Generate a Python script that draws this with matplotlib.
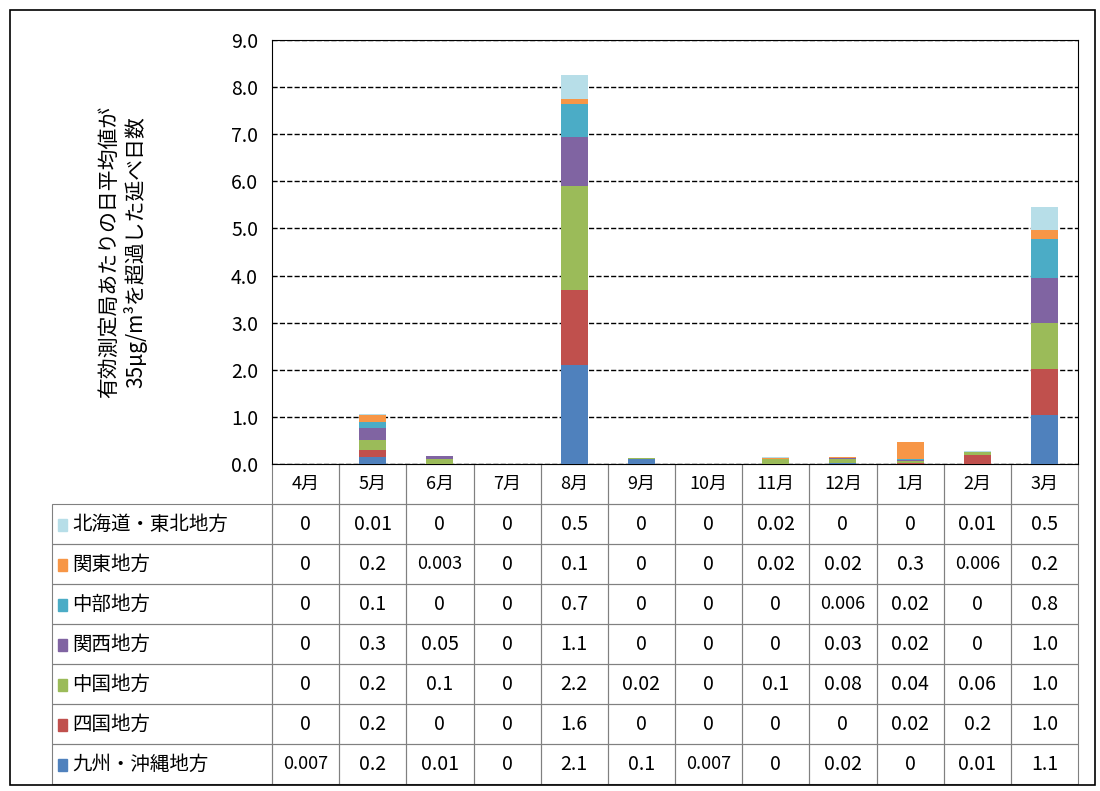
import numpy as np
import matplotlib.pyplot as plt
from matplotlib.patches import Rectangle

plt.rcParams['font.family'] = ['Noto Sans CJK JP', 'DejaVu Sans']

months = ['4月', '5月', '6月', '7月', '8月', '9月', '10月', '11月', '12月', '1月', '2月', '3月']
regions = ['北海道・東北地方', '関東地方', '中部地方', '関西地方', '中国地方', '四国地方', '九州・沖縄地方']
colors = ['#B7DEE8', '#F79646', '#4BACC6', '#8064A2', '#9BBB59', '#C0504D', '#4F81BD']
# table labels (rounded, as printed)
labels = [
    ['0', '0.01', '0', '0', '0.5', '0', '0', '0.02', '0', '0', '0.01', '0.5'],
    ['0', '0.2', '0.003', '0', '0.1', '0', '0', '0.02', '0.02', '0.3', '0.006', '0.2'],
    ['0', '0.1', '0', '0', '0.7', '0', '0', '0', '0.006', '0.02', '0', '0.8'],
    ['0', '0.3', '0.05', '0', '1.1', '0', '0', '0', '0.03', '0.02', '0', '1.0'],
    ['0', '0.2', '0.1', '0', '2.2', '0.02', '0', '0.1', '0.08', '0.04', '0.06', '1.0'],
    ['0', '0.2', '0', '0', '1.6', '0', '0', '0', '0', '0.02', '0.2', '1.0'],
    ['0.007', '0.2', '0.01', '0', '2.1', '0.1', '0.007', '0', '0.02', '0', '0.01', '1.1'],
]
# bar heights
heights = [
    [0, 0.01, 0, 0, 0.50, 0, 0, 0.02, 0, 0, 0.01, 0.48],
    [0, 0.16, 0.003, 0, 0.10, 0, 0, 0.02, 0.02, 0.37, 0.006, 0.19],
    [0, 0.12, 0, 0, 0.70, 0, 0, 0, 0.006, 0.02, 0, 0.83],
    [0, 0.25, 0.05, 0, 1.05, 0, 0, 0, 0.03, 0.02, 0, 0.95],
    [0, 0.22, 0.10, 0, 2.20, 0.02, 0, 0.10, 0.08, 0.04, 0.06, 0.98],
    [0, 0.15, 0, 0, 1.60, 0, 0, 0, 0, 0.02, 0.18, 0.97],
    [0.007, 0.15, 0.01, 0, 2.10, 0.10, 0.007, 0, 0.02, 0, 0.01, 1.05],
]

fig = plt.figure(figsize=(11, 7.91), dpi=100)
fig.patches.append(Rectangle((10/1100, 6/791), 1085/1100, 775/791, transform=fig.transFigure,
                             fill=False, edgecolor='black', lw=1.2))
ax = fig.add_axes([272/1100, 1-464/791, 806/1100, 424/791])

x = np.arange(len(months))
bottom = np.zeros(len(months))
for col, vals in reversed(list(zip(colors, heights))):
    vals = np.array(vals)
    ax.bar(x, vals, 0.4, bottom=bottom, color=col, zorder=3)
    bottom += vals

ax.set_xlim(-0.5, len(months) - 0.5)
ax.set_ylim(0, 9)
ax.set_yticks(np.arange(0, 9.1, 1))
ax.set_yticklabels([f'{v:.1f}' for v in np.arange(0, 9.1, 1)], fontsize=14)
ax.yaxis.grid(True, linestyle='--', color='black', lw=1, zorder=0)
ax.set_xticks([])
ax.tick_params(axis='y', length=0, pad=10)
for s in ax.spines.values():
    s.set_color('black')
ax.set_ylabel('有効測定局あたりの日平均値が\n35μg/m³を超過した延べ日数', fontsize=15, labelpad=60)

# table
ncol = len(months)
label_w = 220/806
row_h = 40/424
for j, m in enumerate(months):
    ax.add_patch(Rectangle((j/ncol, -row_h), 1/ncol, row_h, transform=ax.transAxes,
                           fill=False, edgecolor='gray', lw=0.8, clip_on=False))
    ax.text((j+0.5)/ncol, -row_h/2, m, transform=ax.transAxes, ha='center', va='center', fontsize=13)
for i, (name, col, row) in enumerate(zip(regions, colors, labels)):
    y0 = -row_h*(i+2)
    ax.add_patch(Rectangle((-label_w, y0), label_w, row_h, transform=ax.transAxes,
                           fill=False, edgecolor='gray', lw=0.8, clip_on=False))
    ax.add_patch(Rectangle((-label_w+0.008, y0+row_h*0.32), 0.011, row_h*0.3, transform=ax.transAxes,
                           color=col, clip_on=False))
    ax.text(-label_w+0.025, y0+row_h/2, name, transform=ax.transAxes, ha='left', va='center', fontsize=14)
    for j, v in enumerate(row):
        ax.add_patch(Rectangle((j/ncol, y0), 1/ncol, row_h, transform=ax.transAxes,
                               fill=False, edgecolor='gray', lw=0.8, clip_on=False))
        ax.text((j+0.5)/ncol, y0+row_h/2, v, transform=ax.transAxes, ha='center', va='center',
                fontsize=14 if len(v) < 5 else 13)

fig.savefig('out.png', dpi=100)
